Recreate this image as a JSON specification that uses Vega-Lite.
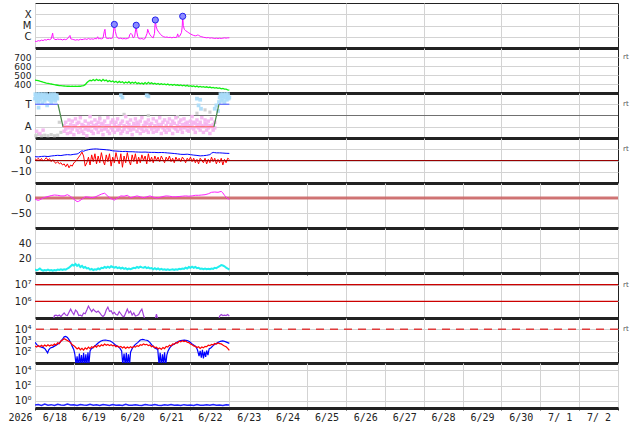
{
"$schema": "https://vega.github.io/schema/vega-lite/v6.json",
"background": "white",
"padding": {"left": 7, "top": 2, "right": 2, "bottom": 2},
"spacing": 0,
"bounds": "flush",
"config": {
 "view": {"stroke": "#222222", "strokeWidth": 1},
 "axis": {"gridColor": "#d3d3d3", "gridWidth": 1, "labelOverlap": false, "labelFlush": false, "labelBound": false},
 "axisX": {"grid": true, "labels": false, "ticks": true, "tickSize": 2, "tickColor": "#222222", "domain": true, "domainColor": "#222222", "domainWidth": 3, "zindex": 1},
 "axisY": {"grid": true, "ticks": false, "domain": false, "labelFont": "DejaVu Sans", "labelFontSize": 10, "labelColor": "#222222", "labelPadding": 4, "labelOverlap": false}
},
"datasets": {
 "xray": [{"h":0,"v":4e-7},{"h":1,"v":3.8e-7},{"h":2,"v":4.5e-7},{"h":3,"v":4.2e-7},{"h":4,"v":5e-7},{"h":5,"v":4.6e-7},{"h":6,"v":5.5e-7},{"h":7,"v":5e-7},{"h":8,"v":6e-7},{"h":9,"v":5.5e-7},{"h":10,"v":6.5e-7},{"h":10.9,"v":2.1e-6},{"h":11.3,"v":8e-7},{"h":12,"v":6e-7},{"h":13,"v":5.5e-7},{"h":14,"v":6.2e-7},{"h":15,"v":5.8e-7},{"h":16,"v":6e-7},{"h":17,"v":5.2e-7},{"h":18,"v":6e-7},{"h":19,"v":5.5e-7},{"h":20,"v":6.5e-7},{"h":21.6,"v":1.3e-6},{"h":22.1,"v":6.5e-7},{"h":23,"v":6e-7},{"h":24,"v":5.5e-7},{"h":25,"v":5e-7},{"h":26,"v":5.5e-7},{"h":27,"v":5e-7},{"h":28,"v":6e-7},{"h":29,"v":5.5e-7},{"h":30,"v":6e-7},{"h":31,"v":6.5e-7},{"h":32,"v":5.8e-7},{"h":33,"v":7e-7},{"h":34,"v":6e-7},{"h":35,"v":6.5e-7},{"h":36,"v":6e-7},{"h":37,"v":7e-7},{"h":38,"v":6.5e-7},{"h":38.7,"v":1e-6},{"h":39.2,"v":6.5e-7},{"h":40,"v":7e-7},{"h":41,"v":6.5e-7},{"h":42,"v":7.5e-7},{"h":42.8,"v":3e-6},{"h":43.2,"v":4.6e-6},{"h":43.6,"v":1.2e-6},{"h":44,"v":7.5e-7},{"h":45,"v":7e-7},{"h":46,"v":7.5e-7},{"h":47,"v":7e-7},{"h":48,"v":8e-7},{"h":48.6,"v":4e-6},{"h":49,"v":1.25e-5},{"h":49.6,"v":3e-6},{"h":50.3,"v":1.2e-6},{"h":51,"v":8e-7},{"h":52,"v":7e-7},{"h":53,"v":7.5e-7},{"h":54,"v":6.5e-7},{"h":55,"v":7e-7},{"h":56,"v":6.5e-7},{"h":57,"v":7e-7},{"h":58,"v":8e-7},{"h":58.5,"v":1.6e-6},{"h":59.3,"v":2e-6},{"h":60,"v":1.5e-6},{"h":60.6,"v":8e-7},{"h":61.5,"v":1e-6},{"h":62.1,"v":4e-6},{"h":62.5,"v":1.05e-5},{"h":62.9,"v":2.5e-6},{"h":63.5,"v":1e-6},{"h":64,"v":7e-7},{"h":65,"v":6.5e-7},{"h":66,"v":7e-7},{"h":67,"v":6e-7},{"h":68,"v":7e-7},{"h":69.2,"v":2e-6},{"h":69.6,"v":4.6e-6},{"h":70.2,"v":2.5e-6},{"h":71,"v":1.5e-6},{"h":72,"v":1e-6},{"h":73,"v":8e-7},{"h":73.8,"v":2e-6},{"h":74.3,"v":3.1e-5},{"h":74.8,"v":8e-6},{"h":75.5,"v":4e-6},{"h":76.5,"v":2.5e-6},{"h":77.5,"v":1.6e-6},{"h":78.5,"v":1.2e-6},{"h":79.5,"v":1e-6},{"h":80.5,"v":9e-7},{"h":81.5,"v":9.5e-7},{"h":82.5,"v":8.5e-7},{"h":83.5,"v":9e-7},{"h":84.5,"v":8e-7},{"h":85.5,"v":9e-7},{"h":86.5,"v":8.5e-7},{"h":87.5,"v":9e-7},{"h":88.1,"v":1.8e-6},{"h":88.6,"v":1e-6},{"h":89.5,"v":1.2e-6},{"h":90.5,"v":2.5e-6},{"h":90.9,"v":8e-6},{"h":91.2,"v":6.6e-5},{"h":91.6,"v":1e-5},{"h":92.2,"v":4.5e-6},{"h":93,"v":3.5e-6},{"h":94,"v":2.8e-6},{"h":95,"v":2.2e-6},{"h":96,"v":1.8e-6},{"h":97,"v":1.5e-6},{"h":98,"v":1.3e-6},{"h":99,"v":1.2e-6},{"h":100,"v":1.3e-6},{"h":100.5,"v":1.45e-6},{"h":101,"v":1.35e-6},{"h":102,"v":1.1e-6},{"h":103,"v":1e-6},{"h":104,"v":9e-7},{"h":105,"v":8.5e-7},{"h":106,"v":8e-7},{"h":107,"v":8.5e-7},{"h":108,"v":7.5e-7},{"h":109,"v":8e-7},{"h":110,"v":7.5e-7},{"h":111,"v":7e-7},{"h":112,"v":7.5e-7},{"h":113,"v":7e-7},{"h":114,"v":7.5e-7},{"h":115,"v":7e-7},{"h":116,"v":7.5e-7},{"h":117,"v":8e-7},{"h":118,"v":7.5e-7},{"h":119,"v":8e-7},{"h":120,"v":8e-7}],
 "flares": [{"h":49,"v":1.25e-5},{"h":62.5,"v":1.05e-5},{"h":74.3,"v":3.1e-5},{"h":91.2,"v":6.6e-5}],
 "wind": [{"h":0,"v":442},{"h":1,"v":440},{"h":2,"v":437},{"h":3,"v":431},{"h":4,"v":426},{"h":5,"v":420},{"h":6,"v":415},{"h":7,"v":410},{"h":8,"v":407},{"h":9,"v":403},{"h":10,"v":400},{"h":11,"v":396},{"h":12,"v":392},{"h":13,"v":389},{"h":14,"v":386},{"h":15,"v":383},{"h":16,"v":381},{"h":17,"v":379},{"h":18,"v":378},{"h":19,"v":377},{"h":20,"v":375},{"h":21,"v":377},{"h":22,"v":374},{"h":23,"v":376},{"h":24,"v":373},{"h":25,"v":376},{"h":26,"v":374},{"h":27,"v":377},{"h":28,"v":375},{"h":29,"v":379},{"h":30,"v":383},{"h":31,"v":393},{"h":32,"v":414},{"h":33,"v":431},{"h":34,"v":441},{"h":35,"v":435},{"h":36,"v":449},{"h":37,"v":437},{"h":38,"v":453},{"h":39,"v":439},{"h":40,"v":446},{"h":41,"v":431},{"h":42,"v":451},{"h":43,"v":435},{"h":44,"v":443},{"h":45,"v":427},{"h":46,"v":439},{"h":47,"v":424},{"h":48,"v":433},{"h":49,"v":419},{"h":50,"v":431},{"h":51,"v":414},{"h":52,"v":429},{"h":53,"v":417},{"h":54,"v":425},{"h":55,"v":409},{"h":56,"v":423},{"h":57,"v":411},{"h":58,"v":426},{"h":59,"v":407},{"h":60,"v":419},{"h":61,"v":409},{"h":62,"v":421},{"h":63,"v":404},{"h":64,"v":413},{"h":65,"v":403},{"h":66,"v":411},{"h":67,"v":399},{"h":68,"v":416},{"h":69,"v":401},{"h":70,"v":419},{"h":71,"v":404},{"h":72,"v":413},{"h":73,"v":399},{"h":74,"v":409},{"h":75,"v":397},{"h":76,"v":406},{"h":77,"v":395},{"h":78,"v":403},{"h":79,"v":394},{"h":80,"v":401},{"h":81,"v":391},{"h":82,"v":399},{"h":83,"v":389},{"h":84,"v":396},{"h":85,"v":387},{"h":86,"v":395},{"h":87,"v":385},{"h":88,"v":391},{"h":89,"v":382},{"h":90,"v":389},{"h":91,"v":379},{"h":92,"v":387},{"h":93,"v":377},{"h":94,"v":385},{"h":95,"v":375},{"h":96,"v":381},{"h":97,"v":373},{"h":98,"v":379},{"h":99,"v":369},{"h":100,"v":377},{"h":101,"v":367},{"h":102,"v":373},{"h":103,"v":365},{"h":104,"v":371},{"h":105,"v":363},{"h":106,"v":369},{"h":107,"v":361},{"h":108,"v":366},{"h":109,"v":357},{"h":110,"v":363},{"h":111,"v":355},{"h":112,"v":359},{"h":113,"v":351},{"h":114,"v":356},{"h":115,"v":347},{"h":116,"v":351},{"h":117,"v":343},{"h":118,"v":343},{"h":119,"v":336},{"h":120,"v":332}],
 "sectorLine": [{"h":0,"v":1,"seg":"T1"},{"h":14.2,"v":1,"seg":"T1"},{"h":14.2,"v":1,"seg":"G1"},{"h":17.3,"v":-1,"seg":"G1"},{"h":17.3,"v":-1,"seg":"A"},{"h":110.5,"v":-1,"seg":"A"},{"h":110.5,"v":-1,"seg":"G2"},{"h":113.6,"v":1,"seg":"G2"},{"h":113.6,"v":1,"seg":"T2"},{"h":120,"v":1,"seg":"T2"}],
 "sectorT": [{"h":0,"v":1.5},{"h":0.5,"v":1.8},{"h":1,"v":1.3},{"h":1.5,"v":1.7},{"h":2,"v":1.2},{"h":2.5,"v":1.6},{"h":3,"v":1.9},{"h":3.5,"v":1.4},{"h":4,"v":1.7},{"h":4.5,"v":1.1},{"h":5,"v":1.6},{"h":5.5,"v":1.8},{"h":6,"v":1.3},{"h":6.5,"v":1.7},{"h":7,"v":1.5},{"h":7.5,"v":0.9},{"h":8,"v":1.6},{"h":8.5,"v":1.8},{"h":9,"v":1.4},{"h":9.5,"v":1.7},{"h":10,"v":1.2},{"h":10.5,"v":1.6},{"h":11,"v":1.8},{"h":11.5,"v":1.5},{"h":12,"v":1.7},{"h":12.5,"v":1.3},{"h":13,"v":1.6},{"h":13.5,"v":1.8},{"h":0.2,"v":1.9},{"h":0.8,"v":1.6},{"h":1.7,"v":1.9},{"h":2.8,"v":1.5},{"h":3.8,"v":1.8},{"h":4.8,"v":1.9},{"h":5.8,"v":1.5},{"h":6.8,"v":1.9},{"h":7.8,"v":1.7},{"h":8.8,"v":1.5},{"h":9.8,"v":1.9},{"h":10.8,"v":1.4},{"h":11.8,"v":1.9},{"h":12.8,"v":1.8},{"h":13.8,"v":1.5},{"h":2.2,"v":0.7},{"h":53,"v":1.8},{"h":54,"v":1.6},{"h":69,"v":1.8},{"h":70,"v":1.7},{"h":100,"v":1.5},{"h":101,"v":0.9},{"h":102,"v":1.4},{"h":102.5,"v":0.6},{"h":111,"v":0.6},{"h":112,"v":0.9},{"h":113,"v":0.4},{"h":113.6,"v":1.2},{"h":114,"v":1.6},{"h":114.5,"v":1.9},{"h":115,"v":1.3},{"h":115.5,"v":1.7},{"h":116,"v":1.5},{"h":116.5,"v":1.8},{"h":117,"v":1.2},{"h":117.5,"v":1.6},{"h":118,"v":1.9},{"h":118.5,"v":1.4},{"h":119,"v":1.7},{"h":119.5,"v":1.5},{"h":120,"v":1.6},{"h":114.8,"v":1.8},{"h":116.2,"v":1.9},{"h":117.8,"v":1.8},{"h":119.2,"v":1.9}],
 "sectorA": [{"h":1,"v":-1.4},{"h":3,"v":-1.6},{"h":5,"v":-1.3},{"h":18,"v":-0.9},{"h":18,"v":-1.4},{"h":19,"v":-0.6},{"h":19,"v":-1.2},{"h":20,"v":-1.0},{"h":20,"v":-1.6},{"h":21,"v":-0.4},{"h":21,"v":-1.1},{"h":22,"v":-0.8},{"h":22,"v":-1.5},{"h":23,"v":-1.2},{"h":23,"v":-0.5},{"h":24,"v":-0.9},{"h":24,"v":-1.7},{"h":25,"v":-0.3},{"h":25,"v":-1.0},{"h":26,"v":-1.3},{"h":26,"v":-0.7},{"h":27,"v":-0.6},{"h":27,"v":-1.5},{"h":28,"v":-1.1},{"h":28,"v":-0.2},{"h":29,"v":-0.8},{"h":29,"v":-1.4},{"h":30,"v":-1.6},{"h":30,"v":-0.9},{"h":31,"v":-0.5},{"h":31,"v":-1.2},{"h":32,"v":-1.0},{"h":32,"v":-1.8},{"h":33,"v":-0.7},{"h":33,"v":-1.3},{"h":34,"v":-0.1},{"h":34,"v":-1.0},{"h":35,"v":-1.4},{"h":35,"v":-0.6},{"h":36,"v":-0.9},{"h":36,"v":-1.6},{"h":37,"v":-0.4},{"h":37,"v":-1.1},{"h":38,"v":-1.2},{"h":38,"v":-0.8},{"h":39,"v":-0.6},{"h":39,"v":-1.5},{"h":40,"v":-1.0},{"h":40,"v":-0.3},{"h":41,"v":-1.3},{"h":41,"v":-0.7},{"h":42,"v":-0.8},{"h":42,"v":-1.7},{"h":43,"v":-0.5},{"h":43,"v":-1.2},{"h":44,"v":-1.1},{"h":44,"v":-0.9},{"h":45,"v":-0.2},{"h":45,"v":-1.4},{"h":46,"v":-0.9},{"h":46,"v":-1.6},{"h":47,"v":-0.6},{"h":47,"v":-1.1},{"h":48,"v":-1.3},{"h":48,"v":-0.4},{"h":49,"v":-0.8},{"h":49,"v":-1.5},{"h":50,"v":-1.0},{"h":50,"v":-0.6},{"h":51,"v":-0.3},{"h":51,"v":-1.3},{"h":52,"v":-1.2},{"h":52,"v":-0.9},{"h":53,"v":-0.7},{"h":53,"v":-1.6},{"h":54,"v":-1.4},{"h":54,"v":-0.5},{"h":55,"v":-0.9},{"h":55,"v":-1.2},{"h":56,"v":-0.1},{"h":56,"v":-1.0},{"h":57,"v":-0.6},{"h":57,"v":-1.5},{"h":58,"v":-1.1},{"h":58,"v":-0.8},{"h":59,"v":-0.4},{"h":59,"v":-1.3},{"h":60,"v":-1.0},{"h":60,"v":-1.7},{"h":61,"v":-0.7},{"h":61,"v":-1.2},{"h":62,"v":-0.3},{"h":62,"v":-0.9},{"h":63,"v":-1.4},{"h":63,"v":-0.6},{"h":64,"v":-0.8},{"h":64,"v":-1.1},{"h":65,"v":-0.5},{"h":65,"v":-1.6},{"h":66,"v":-1.2},{"h":66,"v":-0.2},{"h":67,"v":-0.9},{"h":67,"v":-1.4},{"h":68,"v":-0.6},{"h":68,"v":-1.0},{"h":69,"v":-1.3},{"h":69,"v":-0.7},{"h":70,"v":-0.4},{"h":70,"v":-1.5},{"h":71,"v":-1.0},{"h":71,"v":-0.8},{"h":72,"v":-0.7},{"h":72,"v":-1.2},{"h":73,"v":-1.5},{"h":73,"v":-0.3},{"h":74,"v":-0.9},{"h":74,"v":-1.1},{"h":75,"v":-0.5},{"h":75,"v":-1.4},{"h":76,"v":-1.2},{"h":76,"v":-0.8},{"h":77,"v":-0.2},{"h":77,"v":-1.0},{"h":78,"v":-0.8},{"h":78,"v":-1.6},{"h":79,"v":-1.1},{"h":79,"v":-0.6},{"h":80,"v":-0.4},{"h":80,"v":-1.3},{"h":81,"v":-0.9},{"h":81,"v":-1.5},{"h":82,"v":-0.6},{"h":82,"v":-1.1},{"h":83,"v":-1.3},{"h":83,"v":-0.3},{"h":84,"v":-0.8},{"h":84,"v":-1.0},{"h":85,"v":-0.5},{"h":85,"v":-1.6},{"h":86,"v":-1.1},{"h":86,"v":-0.7},{"h":87,"v":-0.2},{"h":87,"v":-1.2},{"h":88,"v":-0.9},{"h":88,"v":-1.4},{"h":89,"v":-0.6},{"h":89,"v":-1.0},{"h":90,"v":-1.2},{"h":90,"v":-0.4},{"h":91,"v":-0.8},{"h":91,"v":-1.5},{"h":92,"v":-0.3},{"h":92,"v":-1.1},{"h":93,"v":-1.0},{"h":93,"v":-0.7},{"h":94,"v":-0.6},{"h":94,"v":-1.3},{"h":95,"v":-1.4},{"h":95,"v":-0.9},{"h":96,"v":-0.5},{"h":96,"v":-1.1},{"h":97,"v":-0.1},{"h":97,"v":-0.8},{"h":98,"v":-1.2},{"h":98,"v":-0.6},{"h":99,"v":-0.7},{"h":99,"v":-1.5},{"h":100,"v":-0.4},{"h":100,"v":-1.0},{"h":101,"v":-1.1},{"h":101,"v":-0.8},{"h":102,"v":-0.6},{"h":102,"v":-1.3},{"h":103,"v":-0.2},{"h":103,"v":-0.9},{"h":104,"v":-1.0},{"h":104,"v":-1.5},{"h":105,"v":-0.7},{"h":105,"v":-0.4},{"h":106,"v":-1.3},{"h":106,"v":-0.8},{"h":107,"v":-0.5},{"h":107,"v":-1.1},{"h":108,"v":-0.9},{"h":108,"v":-1.6},{"h":109,"v":-0.3},{"h":109,"v":-1.0},{"h":110,"v":-0.8},{"h":110,"v":-1.3},{"h":111,"v":-0.6},{"h":111,"v":-1.1}],
 "sectorO": [{"h":0.5,"v":-1.8},{"h":2,"v":-1.7},{"h":4,"v":-1.8},{"h":6,"v":-1.75},{"h":8,"v":-1.8},{"h":10,"v":-1.7},{"h":12,"v":-1.8},{"h":14,"v":-1.75},{"h":15,"v":-0.6},{"h":16,"v":-1.5},{"h":40,"v":-0.2},{"h":55,"v":0.1},{"h":70,"v":0.0},{"h":88,"v":-0.1},{"h":100,"v":0.2},{"h":105,"v":0.5},{"h":108,"v":0.3}],
 "bt": [{"h":0,"v":3.4},{"h":2,"v":3.2},{"h":4,"v":3.6},{"h":6,"v":3.8},{"h":8,"v":3.5},{"h":10,"v":4},{"h":12,"v":4.3},{"h":14,"v":4.6},{"h":16,"v":4.4},{"h":18,"v":4.9},{"h":20,"v":5.2},{"h":22,"v":5.0},{"h":24,"v":5.5},{"h":26,"v":5.8},{"h":27,"v":6.5},{"h":28,"v":7.8},{"h":29,"v":8.6},{"h":30,"v":8.2},{"h":31,"v":8.8},{"h":32,"v":9.2},{"h":33,"v":9.6},{"h":34,"v":9.9},{"h":36,"v":10.2},{"h":38,"v":10.3},{"h":40,"v":10},{"h":42,"v":9.8},{"h":44,"v":9.5},{"h":46,"v":9.2},{"h":48,"v":8.6},{"h":50,"v":8.4},{"h":52,"v":8.2},{"h":54,"v":8},{"h":56,"v":8.1},{"h":58,"v":7.8},{"h":60,"v":7.8},{"h":62,"v":7.6},{"h":64,"v":7.5},{"h":66,"v":7.4},{"h":68,"v":7.5},{"h":70,"v":7.3},{"h":72,"v":7.2},{"h":74,"v":7.2},{"h":76,"v":7},{"h":78,"v":7.1},{"h":80,"v":7},{"h":82,"v":6.7},{"h":84,"v":6.5},{"h":86,"v":6.2},{"h":88,"v":5.9},{"h":90,"v":5.5},{"h":92,"v":5.4},{"h":94,"v":5.6},{"h":96,"v":5.2},{"h":98,"v":4.8},{"h":100,"v":4.5},{"h":102,"v":4.1},{"h":104,"v":4.3},{"h":106,"v":4.6},{"h":108,"v":5.2},{"h":109,"v":6.5},{"h":110,"v":7.2},{"h":111,"v":7},{"h":112,"v":6.8},{"h":114,"v":6.8},{"h":116,"v":6.6},{"h":118,"v":6.4},{"h":120,"v":6.3}],
 "bz": [{"h":0,"v":1.5},{"h":1,"v":0.5},{"h":2,"v":2},{"h":3,"v":0},{"h":4,"v":1.8},{"h":5,"v":-0.5},{"h":6,"v":1},{"h":7,"v":2.5},{"h":8,"v":0.2},{"h":9,"v":1.6},{"h":10,"v":-1},{"h":11,"v":0.8},{"h":12,"v":-1.5},{"h":13,"v":-2.5},{"h":14,"v":-1},{"h":15,"v":-3},{"h":16,"v":-2},{"h":17,"v":-4},{"h":18,"v":-3},{"h":19,"v":-5.5},{"h":20,"v":-3},{"h":21,"v":-6.5},{"h":22,"v":-4},{"h":23,"v":-5},{"h":24,"v":-2},{"h":25,"v":-1},{"h":26,"v":1},{"h":27,"v":3},{"h":28,"v":5},{"h":29,"v":7.5},{"h":30,"v":4},{"h":31,"v":-5},{"h":32,"v":-2},{"h":33,"v":3},{"h":34,"v":-4},{"h":35,"v":5},{"h":36,"v":-1},{"h":37,"v":6},{"h":38,"v":-3},{"h":39,"v":4},{"h":40,"v":-2},{"h":41,"v":7},{"h":42,"v":0},{"h":43,"v":-4},{"h":44,"v":5},{"h":45,"v":-1},{"h":46,"v":6},{"h":47,"v":-5},{"h":48,"v":3},{"h":49,"v":-2},{"h":50,"v":7},{"h":51,"v":1},{"h":52,"v":-3},{"h":53,"v":6},{"h":54,"v":-6},{"h":55,"v":4},{"h":56,"v":-2},{"h":57,"v":7},{"h":58,"v":0},{"h":59,"v":-4},{"h":60,"v":5},{"h":61,"v":-1},{"h":62,"v":6},{"h":63,"v":-3},{"h":64,"v":3},{"h":65,"v":-2},{"h":66,"v":5},{"h":67,"v":0},{"h":68,"v":4},{"h":69,"v":-3},{"h":70,"v":6},{"h":71,"v":-1},{"h":72,"v":3},{"h":73,"v":-2},{"h":74,"v":4},{"h":75,"v":0},{"h":76,"v":3},{"h":77,"v":-1},{"h":78,"v":4},{"h":79,"v":1},{"h":80,"v":-2},{"h":81,"v":3},{"h":82,"v":0},{"h":83,"v":4},{"h":84,"v":-1},{"h":85,"v":2},{"h":86,"v":-2},{"h":87,"v":3},{"h":88,"v":0},{"h":89,"v":2},{"h":90,"v":-1},{"h":91,"v":3},{"h":92,"v":1},{"h":93,"v":-2},{"h":94,"v":2},{"h":95,"v":0},{"h":96,"v":3},{"h":97,"v":-1},{"h":98,"v":2},{"h":99,"v":-2},{"h":100,"v":1},{"h":101,"v":-3},{"h":102,"v":2},{"h":103,"v":0},{"h":104,"v":-2},{"h":105,"v":2},{"h":106,"v":-3},{"h":107,"v":1},{"h":108,"v":-2},{"h":109,"v":3},{"h":110,"v":-1},{"h":111,"v":2},{"h":112,"v":-3},{"h":113,"v":1},{"h":114,"v":-2},{"h":115,"v":2},{"h":116,"v":-4},{"h":117,"v":1},{"h":118,"v":-2},{"h":119,"v":2},{"h":120,"v":1}],
 "dst": [{"h":0,"v":-4},{"h":1,"v":-6},{"h":2,"v":-8},{"h":3,"v":-6},{"h":4,"v":-3},{"h":5,"v":0},{"h":6,"v":2},{"h":8,"v":5},{"h":10,"v":8},{"h":12,"v":10},{"h":14,"v":9},{"h":16,"v":7},{"h":18,"v":7},{"h":20,"v":11},{"h":22,"v":5},{"h":24,"v":-4},{"h":26,"v":-12},{"h":27,"v":-11},{"h":29,"v":-4},{"h":31,"v":4},{"h":33,"v":3},{"h":35,"v":1},{"h":37,"v":3},{"h":39,"v":8},{"h":41,"v":13},{"h":43,"v":16},{"h":45,"v":6},{"h":47,"v":-2},{"h":49,"v":-7},{"h":51,"v":0},{"h":53,"v":7},{"h":55,"v":6},{"h":57,"v":9},{"h":59,"v":1},{"h":61,"v":4},{"h":63,"v":7},{"h":65,"v":4},{"h":67,"v":1},{"h":69,"v":4},{"h":71,"v":7},{"h":73,"v":3},{"h":75,"v":0},{"h":77,"v":2},{"h":79,"v":5},{"h":81,"v":7},{"h":83,"v":6},{"h":85,"v":4},{"h":87,"v":4},{"h":89,"v":5},{"h":91,"v":6},{"h":93,"v":7},{"h":95,"v":6},{"h":97,"v":7},{"h":99,"v":9},{"h":101,"v":9},{"h":103,"v":10},{"h":105,"v":11},{"h":107,"v":14},{"h":109,"v":19},{"h":111,"v":20},{"h":113,"v":19},{"h":115,"v":22},{"h":116,"v":17},{"h":117,"v":9},{"h":118,"v":3},{"h":119,"v":-2},{"h":120,"v":-4}],
 "density": [{"h":0,"v":5},{"h":1,"v":3.5},{"h":2,"v":4.5},{"h":3,"v":6},{"h":4,"v":4},{"h":5,"v":3},{"h":6,"v":4},{"h":7,"v":3.5},{"h":8,"v":4.5},{"h":9,"v":3.5},{"h":10,"v":4},{"h":11,"v":3},{"h":12,"v":4},{"h":13,"v":3.5},{"h":14,"v":4.5},{"h":15,"v":4},{"h":16,"v":5},{"h":17,"v":4},{"h":18,"v":5},{"h":19,"v":4.5},{"h":20,"v":6},{"h":21,"v":7},{"h":22,"v":9},{"h":23,"v":11},{"h":24,"v":10},{"h":25,"v":12},{"h":26,"v":9.5},{"h":27,"v":11},{"h":28,"v":8},{"h":29,"v":9.5},{"h":30,"v":7},{"h":31,"v":8},{"h":32,"v":6},{"h":33,"v":6.5},{"h":34,"v":4.5},{"h":35,"v":5.5},{"h":36,"v":4},{"h":37,"v":5},{"h":38,"v":4.5},{"h":39,"v":6},{"h":40,"v":5},{"h":41,"v":7},{"h":42,"v":6.5},{"h":43,"v":8},{"h":44,"v":7},{"h":45,"v":8.5},{"h":46,"v":7},{"h":47,"v":9},{"h":48,"v":8},{"h":49,"v":7},{"h":50,"v":8},{"h":51,"v":6.5},{"h":52,"v":7.5},{"h":53,"v":6},{"h":54,"v":7},{"h":55,"v":5.5},{"h":56,"v":6.5},{"h":57,"v":5},{"h":58,"v":6},{"h":59,"v":5},{"h":60,"v":6},{"h":61,"v":7},{"h":62,"v":6.5},{"h":63,"v":8},{"h":64,"v":7},{"h":65,"v":8.5},{"h":66,"v":7.5},{"h":67,"v":7},{"h":68,"v":8},{"h":69,"v":6.5},{"h":70,"v":7.5},{"h":71,"v":6},{"h":72,"v":6.5},{"h":73,"v":5},{"h":74,"v":6.5},{"h":75,"v":5},{"h":76,"v":6},{"h":77,"v":4.5},{"h":78,"v":5.5},{"h":79,"v":4.5},{"h":80,"v":5},{"h":81,"v":4},{"h":82,"v":5},{"h":83,"v":4},{"h":84,"v":4.5},{"h":85,"v":5},{"h":86,"v":4},{"h":87,"v":5},{"h":88,"v":4.5},{"h":89,"v":5.5},{"h":90,"v":5},{"h":91,"v":6},{"h":92,"v":5.5},{"h":93,"v":7},{"h":94,"v":6},{"h":95,"v":8},{"h":96,"v":7},{"h":97,"v":8.5},{"h":98,"v":7},{"h":99,"v":8},{"h":100,"v":6.5},{"h":101,"v":7},{"h":102,"v":5.5},{"h":103,"v":6},{"h":104,"v":5},{"h":105,"v":6},{"h":106,"v":5},{"h":107,"v":5.5},{"h":108,"v":5},{"h":109,"v":6},{"h":110,"v":5.5},{"h":111,"v":7},{"h":112,"v":6.5},{"h":113,"v":8},{"h":114,"v":9},{"h":115,"v":10.5},{"h":116,"v":10},{"h":117,"v":9},{"h":118,"v":7},{"h":119,"v":6},{"h":120,"v":4.5}],
 "proton": [{"h":0,"v":5e4},{"h":6,"v":5e4},{"h":10,"v":6e4},{"h":11.5,"v":9e4},{"h":12,"v":1.4e5},{"h":13,"v":1.5e5},{"h":14,"v":1.3e5},{"h":15,"v":1.5e5},{"h":16,"v":1.2e5},{"h":17,"v":1.6e5},{"h":18,"v":2e5},{"h":19,"v":1.5e5},{"h":20,"v":1.4e5},{"h":21,"v":2.2e5},{"h":22,"v":3.4e5},{"h":23,"v":2.2e5},{"h":24,"v":1.6e5},{"h":25,"v":3e5},{"h":26,"v":2.4e5},{"h":27,"v":1.4e5},{"h":28,"v":1.5e5},{"h":29,"v":1.3e5},{"h":30,"v":2e5},{"h":31,"v":1.8e5},{"h":32,"v":3e5},{"h":33,"v":5.2e5},{"h":34,"v":3.5e5},{"h":35,"v":2.4e5},{"h":36,"v":3.4e5},{"h":37,"v":2.6e5},{"h":38,"v":2.2e5},{"h":39,"v":2.6e5},{"h":40,"v":2e5},{"h":41,"v":1.5e5},{"h":42,"v":1.2e5},{"h":43,"v":1.6e5},{"h":44,"v":3e5},{"h":45,"v":4.5e5},{"h":46,"v":2.5e5},{"h":47,"v":2.7e5},{"h":48,"v":1.8e5},{"h":49,"v":2.2e5},{"h":50,"v":1.6e5},{"h":51,"v":1.5e5},{"h":52,"v":2.4e5},{"h":53,"v":1.8e5},{"h":54,"v":1.3e5},{"h":55,"v":1.2e5},{"h":56,"v":2e5},{"h":57,"v":3.4e5},{"h":58,"v":2e5},{"h":59,"v":2.6e5},{"h":60,"v":1.5e5},{"h":61,"v":2e5},{"h":62,"v":1.3e5},{"h":63,"v":1.4e5},{"h":64,"v":1.6e5},{"h":65,"v":2.5e5},{"h":66,"v":3.4e5},{"h":67,"v":1.5e5},{"h":68,"v":7e4},{"h":70,"v":5e4},{"h":74,"v":7e4},{"h":75,"v":1.7e5},{"h":76,"v":7e4},{"h":80,"v":5e4},{"h":100,"v":5e4},{"h":113,"v":5e4},{"h":114,"v":1.3e5},{"h":115,"v":1.6e5},{"h":116,"v":1.4e5},{"h":117,"v":1.5e5},{"h":118,"v":1.4e5},{"h":119,"v":1.6e5},{"h":120,"v":1.3e5}],
 "elecBlue": [{"h":0,"v":700},{"h":1,"v":450},{"h":2,"v":320},{"h":3,"v":300},{"h":4,"v":260},{"h":5,"v":230},{"h":6,"v":200},{"h":7,"v":120},{"h":7.8,"v":80},{"h":8.5,"v":150},{"h":9.5,"v":220},{"h":11,"v":260},{"h":12.5,"v":350},{"h":14,"v":460},{"h":15.5,"v":700},{"h":17,"v":1300},{"h":18,"v":2100},{"h":19,"v":2300},{"h":20,"v":1900},{"h":21,"v":1200},{"h":22,"v":650},{"h":23,"v":300},{"h":24,"v":150},{"h":24.6,"v":60},{"h":25.3,"v":8},{"h":26,"v":40},{"h":26.7,"v":5},{"h":27.4,"v":70},{"h":28,"v":6},{"h":28.7,"v":50},{"h":29.4,"v":5},{"h":30,"v":80},{"h":30.7,"v":7},{"h":31.4,"v":60},{"h":32,"v":5},{"h":32.7,"v":90},{"h":33.3,"v":8},{"h":34,"v":120},{"h":34.6,"v":170},{"h":36,"v":250},{"h":37.5,"v":380},{"h":39,"v":600},{"h":40.5,"v":850},{"h":42,"v":1050},{"h":43.5,"v":1100},{"h":45,"v":1000},{"h":46.5,"v":900},{"h":48,"v":650},{"h":49.5,"v":420},{"h":51,"v":300},{"h":52.5,"v":200},{"h":53.5,"v":120},{"h":54.2,"v":8},{"h":55,"v":70},{"h":55.7,"v":6},{"h":56.4,"v":80},{"h":57,"v":5},{"h":57.7,"v":60},{"h":58.4,"v":7},{"h":59,"v":90},{"h":59.6,"v":140},{"h":60.3,"v":230},{"h":62,"v":450},{"h":63.4,"v":650},{"h":65,"v":1100},{"h":66.5,"v":1250},{"h":68,"v":1100},{"h":69.6,"v":1000},{"h":71,"v":650},{"h":72.7,"v":320},{"h":74,"v":220},{"h":75.8,"v":160},{"h":76.6,"v":7},{"h":77.3,"v":80},{"h":78,"v":5},{"h":78.7,"v":60},{"h":79.4,"v":8},{"h":80,"v":90},{"h":80.7,"v":6},{"h":81.4,"v":50},{"h":82.1,"v":110},{"h":83,"v":200},{"h":84,"v":320},{"h":86,"v":500},{"h":88.1,"v":750},{"h":90,"v":1000},{"h":92.2,"v":1100},{"h":94,"v":1000},{"h":95.3,"v":800},{"h":97,"v":500},{"h":99.4,"v":280},{"h":100.3,"v":150},{"h":101.3,"v":40},{"h":102,"v":120},{"h":102.7,"v":30},{"h":103.4,"v":150},{"h":104,"v":25},{"h":104.7,"v":100},{"h":105.4,"v":35},{"h":106,"v":130},{"h":106.8,"v":50},{"h":107.5,"v":180},{"h":108.7,"v":230},{"h":110,"v":350},{"h":111.5,"v":500},{"h":112.8,"v":650},{"h":114.5,"v":850},{"h":115.9,"v":920},{"h":117.5,"v":800},{"h":119,"v":650},{"h":120,"v":560}],
 "elecRed": [{"h":0,"v":320},{"h":1,"v":260},{"h":2,"v":350},{"h":3,"v":280},{"h":4,"v":380},{"h":5,"v":300},{"h":6,"v":400},{"h":7,"v":310},{"h":8,"v":420},{"h":9,"v":330},{"h":10,"v":400},{"h":11,"v":360},{"h":12,"v":480},{"h":13,"v":400},{"h":14,"v":620},{"h":15,"v":520},{"h":16,"v":900},{"h":17,"v":1100},{"h":18,"v":1450},{"h":19,"v":1200},{"h":20,"v":1000},{"h":21,"v":800},{"h":22,"v":650},{"h":23,"v":420},{"h":24,"v":350},{"h":25,"v":250},{"h":26,"v":180},{"h":27,"v":230},{"h":28,"v":150},{"h":29,"v":200},{"h":30,"v":140},{"h":31,"v":220},{"h":32,"v":170},{"h":33,"v":260},{"h":34,"v":190},{"h":35,"v":280},{"h":36,"v":230},{"h":37,"v":330},{"h":38,"v":260},{"h":39,"v":380},{"h":40,"v":300},{"h":41,"v":420},{"h":42,"v":340},{"h":43,"v":480},{"h":44,"v":380},{"h":45,"v":450},{"h":46,"v":350},{"h":47,"v":420},{"h":48,"v":330},{"h":49,"v":380},{"h":50,"v":280},{"h":51,"v":330},{"h":52,"v":250},{"h":53,"v":300},{"h":54,"v":220},{"h":55,"v":280},{"h":56,"v":200},{"h":57,"v":260},{"h":58,"v":210},{"h":59,"v":280},{"h":60,"v":230},{"h":61,"v":300},{"h":62,"v":260},{"h":63,"v":350},{"h":64,"v":300},{"h":65,"v":420},{"h":66,"v":380},{"h":67,"v":500},{"h":68,"v":420},{"h":69,"v":460},{"h":70,"v":350},{"h":71,"v":400},{"h":72,"v":280},{"h":73,"v":320},{"h":74,"v":230},{"h":75,"v":260},{"h":76,"v":180},{"h":77,"v":220},{"h":78,"v":160},{"h":79,"v":240},{"h":80,"v":190},{"h":81,"v":300},{"h":82,"v":260},{"h":83,"v":380},{"h":84,"v":330},{"h":85,"v":500},{"h":86,"v":450},{"h":87,"v":650},{"h":88,"v":600},{"h":89,"v":850},{"h":90,"v":750},{"h":91,"v":950},{"h":92,"v":800},{"h":93,"v":900},{"h":94,"v":700},{"h":95,"v":650},{"h":96,"v":480},{"h":97,"v":420},{"h":98,"v":330},{"h":99,"v":300},{"h":100,"v":240},{"h":101,"v":280},{"h":102,"v":200},{"h":103,"v":260},{"h":104,"v":220},{"h":105,"v":300},{"h":106,"v":280},{"h":107,"v":380},{"h":108,"v":350},{"h":109,"v":450},{"h":110,"v":420},{"h":111,"v":550},{"h":112,"v":480},{"h":113,"v":600},{"h":114,"v":520},{"h":115,"v":500},{"h":116,"v":400},{"h":117,"v":330},{"h":118,"v":280},{"h":119,"v":200},{"h":120,"v":130}],
 "highE": [{"h":0,"v":0.25},{"h":2,"v":0.3},{"h":4,"v":0.22},{"h":6,"v":0.34},{"h":8,"v":0.24},{"h":10,"v":0.28},{"h":12,"v":0.22},{"h":14,"v":0.31},{"h":16,"v":0.25},{"h":18,"v":0.23},{"h":20,"v":0.33},{"h":22,"v":0.25},{"h":24,"v":0.27},{"h":26,"v":0.22},{"h":28,"v":0.3},{"h":30,"v":0.25},{"h":32,"v":0.23},{"h":34,"v":0.32},{"h":36,"v":0.24},{"h":38,"v":0.27},{"h":40,"v":0.22},{"h":42,"v":0.29},{"h":44,"v":0.25},{"h":46,"v":0.22},{"h":48,"v":0.3},{"h":50,"v":0.24},{"h":52,"v":0.26},{"h":54,"v":0.22},{"h":56,"v":0.31},{"h":58,"v":0.24},{"h":60,"v":0.23},{"h":62,"v":0.28},{"h":64,"v":0.24},{"h":66,"v":0.22},{"h":68,"v":0.3},{"h":70,"v":0.25},{"h":72,"v":0.23},{"h":74,"v":0.29},{"h":76,"v":0.24},{"h":78,"v":0.22},{"h":80,"v":0.27},{"h":82,"v":0.24},{"h":84,"v":0.3},{"h":86,"v":0.23},{"h":88,"v":0.25},{"h":90,"v":0.22},{"h":92,"v":0.28},{"h":94,"v":0.24},{"h":96,"v":0.26},{"h":98,"v":0.22},{"h":100,"v":0.3},{"h":102,"v":0.24},{"h":104,"v":0.23},{"h":106,"v":0.27},{"h":108,"v":0.24},{"h":110,"v":0.29},{"h":112,"v":0.23},{"h":114,"v":0.25},{"h":116,"v":0.22},{"h":118,"v":0.27},{"h":120,"v":0.25}]
},
"vconcat": [
 {"width": 583, "height": 45, "layer": [
  {"data": {"name": "xray"}, "mark": {"type": "line", "color": "#ff11ff", "strokeWidth": 1, "clip": true},
   "encoding": {"x": {"field": "h", "type": "quantitative", "title": null, "scale": {"domain": [0, 360], "nice": false, "zero": false}, "axis": {"values": [0,24,48,72,96,120,144,168,192,216,240,264,288,312,336,360]}},
    "y": {"field": "v", "type": "quantitative", "title": null, "scale": {"type": "log", "domain": [1e-7, 1e-3]}, "axis": {"values": [1e-6, 1e-5, 1e-4], "labelOverlap": false, "labelExpr": "datum.value > 5e-5 ? 'X' : datum.value > 5e-6 ? 'M' : 'C'"}}}},
  {"data": {"name": "flares"}, "mark": {"type": "point", "shape": "circle", "filled": true, "size": 38, "fill": "#8c8cff", "stroke": "#2020ee", "strokeWidth": 1, "opacity": 1},
   "encoding": {"x": {"field": "h", "type": "quantitative", "title": null, "scale": {"domain": [0, 360], "nice": false, "zero": false}},
    "y": {"field": "v", "type": "quantitative", "title": null, "scale": {"type": "log", "domain": [1e-7, 1e-3]}, "axis": {"values": [1e-6, 1e-5, 1e-4], "labelOverlap": false, "labelExpr": "datum.value > 5e-5 ? 'X' : datum.value > 5e-6 ? 'M' : 'C'"}}}}
 ]},
 {"width": 583, "height": 45, "layer": [
  {"data": {"name": "wind"}, "mark": {"type": "line", "color": "#11ee11", "strokeWidth": 1.3, "clip": true},
   "encoding": {"x": {"field": "h", "type": "quantitative", "title": null, "scale": {"domain": [0, 360], "nice": false, "zero": false}, "axis": {"values": [0,24,48,72,96,120,144,168,192,216,240,264,288,312,336,360]}},
    "y": {"field": "v", "type": "quantitative", "title": null, "scale": {"domain": [300, 800], "nice": false, "zero": false}, "axis": {"values": [400, 500, 600, 700], "labelOverlap": false, "labelFontSize": 9}}}},
  {"data": {"values": [{}]}, "mark": {"type": "text", "text": "rt", "align": "left", "baseline": "middle", "dx": 5, "fontSize": 7, "font": "DejaVu Sans", "color": "#555555"},
   "encoding": {"x": {"datum": 360, "type": "quantitative", "title": null}, "y": {"datum": 700, "type": "quantitative", "title": null, "axis": {"values": [400, 500, 600, 700], "labelOverlap": false, "labelFontSize": 9}}}}
 ]},
 {"width": 583, "height": 45, "layer": [
  {"data": {"values": [{}]}, "mark": {"type": "rule", "color": "#707070", "strokeWidth": 1}, "encoding": {"y": {"datum": 0, "type": "quantitative", "title": null, "scale": {"domain": [-2, 2], "nice": false, "zero": false}, "axis": {"values": [1, -1], "labelOverlap": false, "labelExpr": "datum.value > 0 ? 'T' : 'A'"}}}},
  {"data": {"name": "sectorO"}, "mark": {"type": "point", "shape": "square", "filled": true, "size": 10, "color": "#cccccc", "opacity": 0.9},
   "encoding": {"x": {"field": "h", "type": "quantitative", "title": null, "scale": {"domain": [0, 360], "nice": false, "zero": false}, "axis": {"values": [0,24,48,72,96,120,144,168,192,216,240,264,288,312,336,360]}}, "y": {"field": "v", "type": "quantitative", "title": null, "axis": {"values": [1, -1], "labelOverlap": false, "labelExpr": "datum.value > 0 ? 'T' : 'A'"}}}},
  {"data": {"name": "sectorT"}, "mark": {"type": "point", "shape": "square", "filled": true, "size": 14, "color": "#a8dcfa", "opacity": 0.9},
   "encoding": {"x": {"field": "h", "type": "quantitative", "title": null}, "y": {"field": "v", "type": "quantitative", "title": null, "axis": {"values": [1, -1], "labelOverlap": false, "labelExpr": "datum.value > 0 ? 'T' : 'A'"}}}},
  {"data": {"name": "sectorA"}, "mark": {"type": "point", "shape": "square", "filled": true, "size": 12, "color": "#f5b2f0", "opacity": 0.9},
   "encoding": {"x": {"field": "h", "type": "quantitative", "title": null}, "y": {"field": "v", "type": "quantitative", "title": null, "axis": {"values": [1, -1], "labelOverlap": false, "labelExpr": "datum.value > 0 ? 'T' : 'A'"}}}},
  {"data": {"name": "sectorLine"}, "mark": {"type": "line", "strokeWidth": 1.2},
   "encoding": {"x": {"field": "h", "type": "quantitative", "title": null}, "y": {"field": "v", "type": "quantitative", "title": null, "axis": {"values": [1, -1], "labelOverlap": false, "labelExpr": "datum.value > 0 ? 'T' : 'A'"}},
    "color": {"field": "seg", "type": "nominal", "legend": null, "scale": {"domain": ["T1", "G1", "A", "G2", "T2"], "range": ["#5b6bff", "#4a8a4a", "#ff5a5a", "#4a8a4a", "#5b6bff"]}}}},
  {"data": {"values": [{}]}, "mark": {"type": "text", "text": "rt", "align": "left", "baseline": "middle", "dx": 5, "fontSize": 7, "font": "DejaVu Sans", "color": "#555555"},
   "encoding": {"x": {"datum": 360, "type": "quantitative", "title": null}, "y": {"datum": 1, "type": "quantitative", "title": null, "axis": {"values": [1, -1], "labelOverlap": false, "labelExpr": "datum.value > 0 ? 'T' : 'A'"}}}}
 ]},
 {"width": 583, "height": 45, "layer": [
  {"data": {"name": "bz"}, "mark": {"type": "line", "color": "#ff0000", "strokeWidth": 1, "clip": true},
   "encoding": {"x": {"field": "h", "type": "quantitative", "title": null, "scale": {"domain": [0, 360], "nice": false, "zero": false}, "axis": {"values": [0,24,48,72,96,120,144,168,192,216,240,264,288,312,336,360]}},
    "y": {"field": "v", "type": "quantitative", "title": null, "scale": {"domain": [-20, 20], "nice": false, "zero": false}, "axis": {"values": [10, 0, -10], "labelOverlap": false}}}},
  {"data": {"name": "bt"}, "mark": {"type": "line", "color": "#0000ff", "strokeWidth": 1, "clip": true},
   "encoding": {"x": {"field": "h", "type": "quantitative", "title": null}, "y": {"field": "v", "type": "quantitative", "title": null, "axis": {"values": [10, 0, -10], "labelOverlap": false}}}},
  {"data": {"values": [{}]}, "mark": {"type": "rule", "color": "#990000", "strokeWidth": 1.2}, "encoding": {"y": {"datum": 0, "type": "quantitative", "title": null, "axis": {"values": [10, 0, -10], "labelOverlap": false}}}},
  {"data": {"values": [{}]}, "mark": {"type": "text", "text": "rt", "align": "left", "baseline": "middle", "dx": 5, "fontSize": 7, "font": "DejaVu Sans", "color": "#555555"},
   "encoding": {"x": {"datum": 360, "type": "quantitative", "title": null}, "y": {"datum": 10, "type": "quantitative", "title": null, "axis": {"values": [10, 0, -10], "labelOverlap": false}}}}
 ]},
 {"width": 583, "height": 45, "layer": [
  {"data": {"values": [{}]}, "mark": {"type": "rule", "color": "#cc6666", "strokeWidth": 3, "opacity": 0.9}, "encoding": {"y": {"datum": 0, "type": "quantitative", "title": null, "scale": {"domain": [-100, 50], "nice": false, "zero": false}, "axis": {"values": [0, -50], "labelOverlap": false}}}},
  {"data": {"name": "dst"}, "mark": {"type": "line", "color": "#ff22ff", "strokeWidth": 1, "clip": true},
   "encoding": {"x": {"field": "h", "type": "quantitative", "title": null, "scale": {"domain": [0, 360], "nice": false, "zero": false}, "axis": {"values": [0,24,48,72,96,120,144,168,192,216,240,264,288,312,336,360]}},
    "y": {"field": "v", "type": "quantitative", "title": null, "axis": {"values": [0, -50], "labelOverlap": false}}}}
 ]},
 {"width": 583, "height": 45, "layer": [
  {"data": {"name": "density"}, "mark": {"type": "line", "color": "#22eeee", "strokeWidth": 2, "clip": true},
   "encoding": {"x": {"field": "h", "type": "quantitative", "title": null, "scale": {"domain": [0, 360], "nice": false, "zero": false}, "axis": {"values": [0,24,48,72,96,120,144,168,192,216,240,264,288,312,336,360]}},
    "y": {"field": "v", "type": "quantitative", "title": null, "scale": {"domain": [0, 60], "nice": false}, "axis": {"values": [20, 40], "labelOverlap": false}}}}
 ]},
 {"width": 583, "height": 45, "layer": [
  {"data": {"values": [{"v": 1e6}, {"v": 1e7}]}, "mark": {"type": "rule", "color": "#cc0000", "strokeWidth": 1.2},
   "encoding": {"y": {"field": "v", "type": "quantitative", "title": null, "scale": {"type": "log", "domain": [1e5, 5e7]}, "axis": {"values": [1e6, 1e7], "labelOverlap": false, "labelExpr": "'10' + ['⁰','¹','²','³','⁴','⁵','⁶','⁷','⁸'][round(log(datum.value) / LN10)]"}}}},
  {"data": {"name": "proton"}, "mark": {"type": "line", "color": "#a040d8", "strokeWidth": 1.2, "clip": true},
   "encoding": {"x": {"field": "h", "type": "quantitative", "title": null, "scale": {"domain": [0, 360], "nice": false, "zero": false}, "axis": {"values": [0,24,48,72,96,120,144,168,192,216,240,264,288,312,336,360]}},
    "y": {"field": "v", "type": "quantitative", "title": null, "scale": {"type": "log", "domain": [1e5, 5e7]}, "axis": {"values": [1e6, 1e7], "labelOverlap": false, "labelExpr": "'10' + ['⁰','¹','²','³','⁴','⁵','⁶','⁷','⁸'][round(log(datum.value) / LN10)]"}}}},
  {"data": {"values": [{}]}, "mark": {"type": "text", "text": "rt", "align": "left", "baseline": "middle", "dx": 5, "fontSize": 7, "font": "DejaVu Sans", "color": "#555555"},
   "encoding": {"x": {"datum": 360, "type": "quantitative", "title": null}, "y": {"datum": 1e7, "type": "quantitative", "title": null, "scale": {"type": "log", "domain": [1e5, 5e7]}, "axis": {"values": [1e6, 1e7], "labelOverlap": false, "labelExpr": "'10' + ['⁰','¹','²','³','⁴','⁵','⁶','⁷','⁸'][round(log(datum.value) / LN10)]"}}}}
 ]},
 {"width": 583, "height": 45, "layer": [
  {"data": {"values": [{"v": 1e4}]}, "mark": {"type": "rule", "color": "#e03c3c", "strokeWidth": 1.5, "strokeDash": [8, 6]},
   "encoding": {"y": {"field": "v", "type": "quantitative", "title": null, "scale": {"type": "log", "domain": [10, 1e5]}, "axis": {"values": [100, 1000, 10000], "labelOverlap": false, "labelExpr": "'10' + ['⁰','¹','²','³','⁴','⁵','⁶','⁷','⁸'][round(log(datum.value) / LN10)]"}}}},
  {"data": {"name": "elecBlue"}, "mark": {"type": "line", "color": "#0000ff", "strokeWidth": 1.2, "clip": true},
   "encoding": {"x": {"field": "h", "type": "quantitative", "title": null, "scale": {"domain": [0, 360], "nice": false, "zero": false}, "axis": {"values": [0,24,48,72,96,120,144,168,192,216,240,264,288,312,336,360]}},
    "y": {"field": "v", "type": "quantitative", "title": null, "scale": {"type": "log", "domain": [10, 1e5]}, "axis": {"values": [100, 1000, 10000], "labelOverlap": false, "labelExpr": "'10' + ['⁰','¹','²','³','⁴','⁵','⁶','⁷','⁸'][round(log(datum.value) / LN10)]"}}}},
  {"data": {"name": "elecRed"}, "mark": {"type": "line", "color": "#ff0000", "strokeWidth": 1.2, "clip": true},
   "encoding": {"x": {"field": "h", "type": "quantitative", "title": null}, "y": {"field": "v", "type": "quantitative", "title": null, "scale": {"type": "log", "domain": [10, 1e5]}, "axis": {"values": [100, 1000, 10000], "labelOverlap": false, "labelExpr": "'10' + ['⁰','¹','²','³','⁴','⁵','⁶','⁷','⁸'][round(log(datum.value) / LN10)]"}}}},
  {"data": {"values": [{}]}, "mark": {"type": "text", "text": "rt", "align": "left", "baseline": "middle", "dx": 5, "fontSize": 7, "font": "DejaVu Sans", "color": "#555555"},
   "encoding": {"x": {"datum": 360, "type": "quantitative", "title": null}, "y": {"datum": 1e4, "type": "quantitative", "title": null, "scale": {"type": "log", "domain": [10, 1e5]}, "axis": {"values": [100, 1000, 10000], "labelOverlap": false, "labelExpr": "'10' + ['⁰','¹','²','³','⁴','⁵','⁶','⁷','⁸'][round(log(datum.value) / LN10)]"}}}}
 ]},
 {"width": 583, "height": 45, "layer": [
  {"data": {"name": "highE"}, "mark": {"type": "line", "color": "#2222ff", "strokeWidth": 1.5, "clip": true},
   "encoding": {"x": {"field": "h", "type": "quantitative", "title": null, "scale": {"domain": [0, 360], "nice": false, "zero": false},
     "axis": {"values": [0,24,48,72,96,120,144,168,192,216,240,264,288,312,336,360], "labels": true, "labelOffset": 19.4, "labelPadding": 2, "labelFont": "DejaVu Sans Mono", "labelFontSize": 10, "labelColor": "#222222",
      "labelExpr": "datum.value >= 360 ? '' : datum.value < 312 ? '6/' + (18 + datum.value / 24) : '7/ ' + (datum.value / 24 - 12)",
      "title": "2026", "titleX": -15, "titleY": 4, "titleAlign": "center", "titleBaseline": "top", "titleFont": "DejaVu Sans Mono", "titleFontSize": 10, "titleFontWeight": "normal", "titleColor": "#222222"}},
    "y": {"field": "v", "type": "quantitative", "title": null, "scale": {"type": "log", "domain": [0.1, 1e5]}, "axis": {"values": [1, 100, 10000], "labelOverlap": false, "labelExpr": "'10' + ['⁰','¹','²','³','⁴','⁵','⁶','⁷','⁸'][round(log(datum.value) / LN10)]"}}}}
 ]}
]
}
